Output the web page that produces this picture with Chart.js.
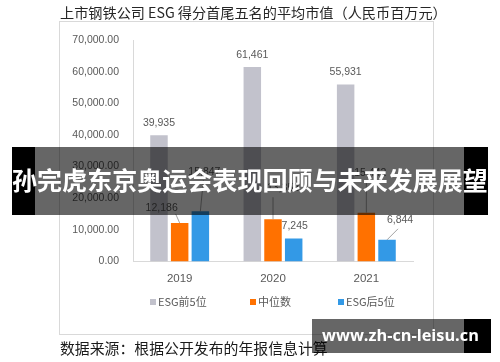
<!DOCTYPE html>
<html>
<head>
<meta charset="utf-8">
<script src="https://cdn.jsdelivr.net/npm/chart.js@4.4.1/dist/chart.umd.min.js"></script>
<style>
    html, body { margin: 0; padding: 0; background: #fff; }
    #wrap { width: 500px; height: 362px; }
</style>
</head>
<body>
<div id="wrap"><canvas id="esgChart" width="500" height="362"></canvas></div>
<script>
// ===== Data =====
const years = ['2019', '2020', '2021'];
const seriesNames = ['ESG前5位', '中位数', 'ESG后5位'];
const top5Values = [39935, 61461, 55931];
const medianValues = [12186, 13352, 15442];
const bottom5Values = [15847, 7245, 6844];
const yMax = 70000;
const yStep = 10000;

const titleText = '上市钢铁公司 ESG 得分首尾五名的平均市值（人民币百万元）';
const sourceText = '数据来源：根据公开发布的年报信息计算';
const bannerText = '孙完虎东京奥运会表现回顾与未来发展展望';
const watermarkText = 'www.zh-cn-leisu.cn';

const barColors = ['#C2C2CC', '#FF7100', '#3399E6'];
const CJK = '"Noto Sans CJK SC", "Noto Sans", sans-serif';
const NUM = '"Liberation Sans", Arial, sans-serif';

// draw text scaled so it spans a given width
function fitText(ctx, text, x, y, width, weight, family, align) {
    ctx.font = weight + ' 20px ' + family;
    const w = ctx.measureText(text).width;
    const size = 20 * width / w;
    ctx.font = weight + ' ' + size.toFixed(2) + 'px ' + family;
    ctx.textAlign = align || 'left';
    ctx.textBaseline = 'middle';
    ctx.fillText(text, x, y);
}

// frame, title, source line
const framePlugin = {
    id: 'frame',
    beforeDraw(chart) {
        const ctx = chart.ctx;
        ctx.save();
        ctx.fillStyle = '#fff';
        ctx.fillRect(0, 0, chart.width, chart.height);
        ctx.strokeStyle = '#d9d9d9';
        ctx.lineWidth = 1;
        ctx.strokeRect(59.5, 21.5, 374, 313);
        ctx.fillStyle = '#262626';
        fitText(ctx, titleText, 60, 13, 387, 'normal', CJK);
        ctx.fillStyle = '#1a1a1a';
        fitText(ctx, sourceText, 60, 348, 268, 'normal', CJK);
        ctx.restore();
    }
};

// data labels with leader lines
const labelPlugin = {
    id: 'barLabels',
    afterDatasetsDraw(chart, args, opts) {
        const ctx = chart.ctx;
        ctx.save();
        ctx.font = '10.5px ' + NUM;
        ctx.textAlign = 'center';
        ctx.textBaseline = 'middle';
        chart.data.datasets.forEach((ds, i) => {
            chart.getDatasetMeta(i).data.forEach((bar, j) => {
                const place = opts.places[i][j];
                if (place[2]) {
                    ctx.strokeStyle = '#8c8c8c';
                    ctx.lineWidth = 0.8;
                    ctx.beginPath();
                    ctx.moveTo(bar.x + place[2][0], bar.y + place[2][1]);
                    ctx.lineTo(bar.x, bar.y);
                    ctx.stroke();
                }
                ctx.fillStyle = '#595959';
                ctx.fillText(ds.data[j].toLocaleString('en-US'), bar.x + place[0], bar.y + place[1]);
            });
        });
        ctx.restore();
    }
};

// legend, overlay banner and watermark
const overlayPlugin = {
    id: 'overlay',
    afterDraw(chart) {
        const ctx = chart.ctx;
        ctx.save();
        // legend
        const legendX = [150, 250, 338];
        chart.data.datasets.forEach((ds, i) => {
            ctx.fillStyle = ds.backgroundColor;
            ctx.fillRect(legendX[i], 299, 6, 6);
            ctx.fillStyle = '#595959';
            ctx.font = '11px ' + CJK;
            ctx.textAlign = 'left';
            ctx.textBaseline = 'middle';
            ctx.fillText(ds.label, legendX[i] + 8, 302);
        });
        // banner
        ctx.fillStyle = '#000';
        ctx.fillRect(12, 147, 23, 68);
        ctx.fillRect(464, 147, 24, 68);
        ctx.fillStyle = 'rgba(0, 0, 0, 0.6)';
        ctx.fillRect(35, 147, 429, 68);
        ctx.fillStyle = '#fff';
        fitText(ctx, bannerText, 12, 180, 476, 'bold', CJK);
        // watermark
        ctx.fillStyle = 'rgba(0, 0, 0, 0.6)';
        ctx.fillRect(312, 319, 152, 34);
        ctx.fillStyle = '#000';
        ctx.fillRect(464, 319, 27, 34);
        ctx.fillStyle = '#fff';
        fitText(ctx, watermarkText, 322, 336, 157, 'bold', '"Open Sans", "Noto Sans", sans-serif');
        ctx.restore();
    }
};

const ctx = document.getElementById('esgChart').getContext('2d');
new Chart(ctx, {
    type: 'bar',
    data: {
        labels: years,
        datasets: [
            { label: seriesNames[0], data: top5Values, backgroundColor: barColors[0] },
            { label: seriesNames[1], data: medianValues, backgroundColor: barColors[1] },
            { label: seriesNames[2], data: bottom5Values, backgroundColor: barColors[2] }
        ]
    },
    options: {
        responsive: false,
        animation: false,
        devicePixelRatio: 1,
        categoryPercentage: 0.665,
        barPercentage: 0.845,
        layout: { padding: { left: 60, right: 87, top: 40, bottom: 70.5 } },
        plugins: {
            legend: { display: false },
            title: { display: false },
            tooltip: { enabled: false },
            barLabels: {
                // [dx, dy, leader start] relative to bar top
                places: [
                    [[0, -12.5], [0, -12], [0, -12.5]],
                    [[-18, -15, [-4, -9]], [10, -31, [0, -22]], [4, -40, [0, -32]]],
                    [[4, -39, [3, -31]], [1, -12], [13, -20, [11, -11]]]
                ]
            }
        },
        scales: {
            x: {
                grid: { display: false, drawTicks: false },
                border: { display: true, color: '#d9d9d9' },
                ticks: { color: '#595959', font: { size: 11.5, family: NUM }, padding: 10 },
                afterFit(scale) { scale.height = 30; }
            },
            y: {
                min: 0,
                max: yMax,
                grid: { display: false, drawTicks: false },
                border: { display: true, color: '#d9d9d9' },
                ticks: {
                    stepSize: yStep,
                    color: '#595959',
                    padding: 14,
                    font: { size: 10.5, family: NUM },
                    callback: v => v.toLocaleString('en-US', { minimumFractionDigits: 2, maximumFractionDigits: 2 })
                },
                afterFit(scale) { scale.width = 73; }
            }
        }
    },
    plugins: [framePlugin, labelPlugin, overlayPlugin]
});
</script>
</body>
</html>
